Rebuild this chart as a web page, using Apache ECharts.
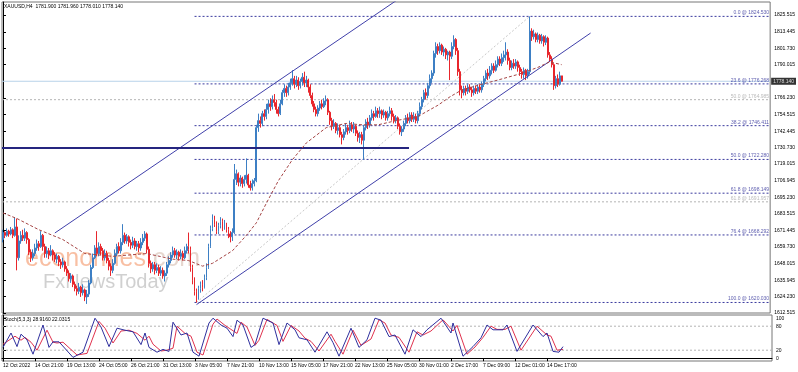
<!DOCTYPE html>
<html><head><meta charset="utf-8">
<script src="https://cdn.jsdelivr.net/npm/echarts@6/dist/echarts.min.js"></script>
<style>html,body{margin:0;padding:0;background:#fff}#c{width:798px;height:372px}</style>
</head><body><div id="c"></div>
<script>
// ---- data (H4 bars, index 0 = 12 Oct 2022) ----
const firstOpen = 1665;
const closes = [
1670,1668,1671,1669,1672,1668,1674,1652,1664,1668,
1666,1670,1665,1656,1652,1655,1659,1662,1660,1668,
1660,1655,1657,1654,1657,1654,1651,1653,1649,1647,
1649,1644,1641,1637,1639,1633,1630,1628,1631,1627,
1629,1624,1626,1634,1645,1652,1659,1655,1660,1657,
1652,1655,1650,1646,1643,1648,1655,1660,1657,1663,
1668,1664,1667,1663,1661,1664,1660,1662,1659,1663,
1666,1669,1658,1648,1644,1647,1643,1645,1641,1643,
1639,1641,1647,1650,1654,1657,1654,1656,1653,1655,
1652,1657,1660,1658,1645,1636,1628,1624,1630,1633,
1631,1638,1645,1660,1673,1679,1676,1671,1675,1678,
1674,1676,1672,1669,1667,1670,1708,1712,1706,1709,
1705,1708,1711,1704,1702,1705,1707,1745,1750,1748,
1755,1753,1758,1762,1760,1765,1763,1758,1755,1762,
1770,1773,1770,1774,1777,1780,1776,1779,1775,1778,
1781,1777,1779,1774,1768,1762,1758,1755,1759,1762,
1760,1764,1765,1756,1750,1746,1748,1743,1745,1740,
1738,1742,1745,1743,1747,1744,1746,1741,1738,1740,
1736,1745,1749,1747,1752,1755,1753,1757,1755,1757,
1754,1756,1752,1755,1757,1753,1750,1752,1746,1742,
1744,1748,1752,1750,1754,1751,1753,1750,1755,1760,
1765,1770,1768,1775,1780,1784,1798,1803,1800,1804,
1799,1801,1797,1799,1796,1803,1808,1800,1785,1772,
1770,1773,1771,1774,1772,1770,1773,1771,1774,1772,
1776,1780,1784,1782,1786,1789,1786,1790,1794,1791,
1795,1797,1799,1793,1788,1791,1789,1792,1788,1785,
1783,1786,1782,1785,1814,1810,1812,1808,1811,1807,
1810,1806,1809,1797,1794,1790,1775,1780,1776,1782,
1778.14];
const highs = [
1672,1671,1673,1672,1674,1673,1681,1680,1668,1671,
1672,1673,1671,1666,1658,1658,1662,1665,1664,1671,
1669,1662,1660,1659,1661,1658,1656,1655,1654,1651,
1652,1650,1646,1643,1641,1640,1635,1632,1634,1632,
1633,1630,1629,1636,1647,1655,1661,1671,1663,1662,
1659,1658,1657,1652,1648,1651,1658,1662,1663,1666,
1676,1670,1669,1668,1665,1667,1666,1664,1664,1666,
1669,1671,1670,1660,1650,1649,1649,1648,1647,1646,
1645,1643,1649,1653,1656,1660,1659,1658,1657,1658,
1657,1660,1662,1670,1660,1647,1638,1630,1632,1635,
1636,1640,1648,1662,1675,1683,1682,1678,1677,1681,
1680,1679,1677,1674,1671,1673,1719,1715,1713,1711,
1710,1711,1723,1712,1707,1708,1709,1747,1755,1753,
1757,1758,1762,1765,1766,1768,1769,1765,1760,1765,
1772,1776,1775,1777,1780,1786,1782,1782,1781,1780,
1784,1785,1782,1780,1776,1770,1764,1760,1761,1764,
1765,1766,1768,1766,1757,1752,1751,1749,1748,1747,
1742,1744,1748,1747,1750,1749,1749,1747,1743,1742,
1742,1747,1751,1752,1754,1758,1757,1760,1759,1760,
1758,1758,1757,1757,1760,1759,1755,1754,1753,1748,
1746,1750,1754,1755,1756,1756,1756,1755,1757,1763,
1767,1772,1773,1777,1783,1786,1800,1806,1805,1806,
1805,1803,1802,1800,1800,1806,1811,1809,1802,1787,
1775,1775,1775,1776,1776,1774,1775,1775,1776,1776,
1778,1782,1786,1787,1789,1791,1791,1793,1796,1796,
1798,1800,1806,1801,1795,1793,1794,1794,1793,1790,
1787,1788,1787,1787,1824.53,1816,1815,1813,1813,1812,
1812,1811,1811,1810,1799,1796,1791,1782,1783,1785,
1781.96];
const lows = [
1663,1666,1667,1667,1668,1666,1667,1643,1650,1662,
1664,1664,1662,1654,1649,1650,1653,1657,1657,1659,
1657,1652,1652,1651,1653,1650,1649,1648,1646,1644,
1645,1642,1639,1635,1634,1631,1628,1625,1626,1624,
1625,1621,1619,1624,1633,1644,1651,1653,1653,1654,
1650,1650,1648,1643,1639,1641,1647,1653,1655,1655,
1661,1662,1662,1660,1658,1659,1658,1657,1656,1657,
1661,1664,1655,1645,1641,1642,1640,1641,1639,1639,
1637,1635,1639,1645,1648,1652,1652,1651,1650,1651,
1650,1651,1655,1655,1642,1633,1625,1620.03,1622,1627,
1628,1630,1636,1644,1659,1671,1674,1669,1669,1673,
1671,1672,1670,1666,1663,1664,1669,1704,1703,1703,
1702,1703,1705,1702,1700,1700,1703,1706,1742,1745,
1746,1750,1751,1755,1757,1758,1760,1755,1753,1754,
1761,1767,1767,1768,1772,1775,1773,1774,1772,1773,
1775,1774,1774,1770,1766,1760,1756,1753,1753,1757,
1758,1759,1761,1754,1747,1743,1744,1741,1740,1738,
1733,1736,1740,1740,1741,1742,1741,1739,1735,1734,
1733,1722,1743,1744,1745,1750,1750,1752,1752,1752,
1751,1752,1750,1750,1753,1750,1748,1748,1744,1740,
1739,1742,1746,1748,1748,1749,1749,1748,1748,1753,
1758,1763,1765,1766,1773,1777,1782,1795,1797,1798,
1797,1796,1794,1793,1779,1794,1801,1797,1782,1768,
1766,1768,1768,1769,1770,1767,1768,1769,1769,1770,
1770,1774,1778,1779,1780,1783,1784,1785,1788,1789,
1789,1792,1793,1790,1786,1786,1787,1787,1785,1782,
1780,1780,1779,1780,1783,1807,1808,1806,1806,1805,
1805,1803,1804,1795,1792,1788,1772,1773,1774,1775,
1778.01];

const slotCount = 385;           // chart width in bar slots
const xTickIdx = [0,16,32,48,64,80,96,112,128,144,160,176,192,208,224,240,256,272];
const xTickLabels = ['12 Oct 2022','14 Oct 21:00','19 Oct 13:00','24 Oct 05:00','26 Oct 21:00','31 Oct 13:00',
  '3 Nov 05:00','7 Nov 21:00','10 Nov 13:00','15 Nov 05:00','17 Nov 21:00','22 Nov 13:00','25 Nov 05:00',
  '30 Nov 01:00','2 Dec 17:00','7 Dec 09:00','12 Dec 01:00','14 Dec 17:00'];
const yTicks = [1825.515,1813.445,1801.730,1790.015,1766.230,1754.515,1742.445,1730.730,1719.015,1706.945,
  1695.230,1683.515,1671.445,1659.730,1648.015,1635.945,1624.230,1612.515];
const bidPrice = 1778.14;

const maPts = [[0,1684],[7,1680],[18,1672],[30,1665],[41,1655],[55,1653],[72,1655],[85,1651],[93,1650],
  [100,1646],[105,1648],[115,1657],[122,1668],[127,1677],[132,1691],[138,1707],[145,1722],[152,1734],
  [162,1745],[172,1748],[180,1747],[188,1747],[197,1750],[208,1753],[218,1761],[224,1767],[230,1772],
  [240,1776],[248,1779],[258,1783],[268,1788],[274,1792],[280,1790]];

const stochK = [[0,27],[4,63],[7,29],[9,60],[12,46],[15,10],[20,83],[23,27],[25,41],[28,41],[35,2],[40,15],
  [46,100],[49,78],[53,29],[57,75],[61,70],[65,66],[69,34],[71,63],[73,27],[77,15],[80,22],[83,17],[85,90],
  [89,58],[92,63],[95,15],[98,5],[103,88],[105,100],[109,83],[112,75],[115,54],[117,95],[120,83],[124,27],
  [126,34],[130,100],[135,88],[138,34],[142,88],[146,71],[148,51],[152,46],[156,15],[162,66],[165,39],
  [168,5],[174,75],[178,27],[182,46],[186,100],[189,95],[193,54],[196,58],[201,10],[205,71],[209,54],
  [212,71],[219,100],[224,63],[225,88],[230,5],[235,29],[239,51],[242,83],[245,71],[250,71],[252,83],
  [257,17],[265,83],[270,54],[272,63],[275,17],[278,15],[280,28.916]];
const stochD = [[0,35],[6,55],[9,45],[11,52],[14,40],[17,20],[22,70],[25,40],[27,38],[30,40],[37,8],[42,12],
  [48,92],[51,75],[55,38],[59,68],[63,70],[67,62],[71,45],[73,55],[75,35],[79,18],[82,20],[85,25],[87,80],
  [91,62],[94,55],[97,15],[100,8],[105,85],[107,98],[111,82],[114,72],[117,62],[119,90],[122,78],[126,32],
  [128,45],[132,97],[137,82],[140,42],[144,82],[148,68],[151,50],[154,42],[158,18],[164,60],[166,42],
  [170,10],[175,70],[179,32],[184,48],[188,96],[191,88],[194,58],[198,52],[203,15],[207,66],[210,58],
  [214,68],[220,96],[225,68],[227,82],[232,10],[236,28],[240,52],[244,80],[247,72],[251,72],[254,80],
  [259,20],[267,80],[272,58],[274,55],[277,20],[280,22.0315]];

const fibLevels = [1824.530,1776.268,1746.411,1722.280,1698.149,1668.292,1620.030];
const fibNames = ['0.0','23.6','38.2','50.0','61.8','76.4','100.0'];
const fibStartIdx = 96;
const grayFibLevels = [1764.985,1691.957];
const grayFibNames = ['50.0','61.8'];
const channelUpper = [[26,1669.7],[197.5,1836.2]];
const channelLower = [[97,1618.5],[294.5,1812.6]];
const fibDiagonal = [[97,1620.03],[264,1824.53]];
const supportLine = [[-0.5,1730.5],[203.5,1730.5]];

// ---- build ----
const FONT = '"Liberation Sans", Arial, sans-serif';
const cats = [];
for (let i = 0; i < slotCount; i++) cats.push(String(i));
const ohlc = closes.map((c, i) => {
  const o = i === 0 ? firstOpen : closes[i - 1];
  return [o, c, Math.min(lows[i], o, c), Math.max(highs[i], o, c)];
});
const xMin = -0.5, xMax = slotCount - 0.5;

function seg(name, pts, color, width, type, z) {
  return { name, type: 'line', xAxisIndex: 1, yAxisIndex: 0, data: pts, symbol: 'none', silent: true,
    lineStyle: { color, width, type }, z: z || 3, clip: true, animation: false };
}
const series = [];
series.push({
  type: 'candlestick', xAxisIndex: 0, yAxisIndex: 0, data: ohlc, barWidth: 1.4, z: 4,
  itemStyle: { color: '#3d7fc4', color0: '#e8262c', borderColor: '#3d7fc4', borderColor0: '#e8262c', borderWidth: 1 }
});
// gray fib lines
grayFibLevels.forEach((v) => series.push(seg('g' + v, [[xMin, v], [xMax, v]], '#b4b4b4', 1, [2, 2], 2)));
// bid line
series.push(seg('bid', [[xMin, bidPrice], [xMax, bidPrice]], '#b9d3ea', 1, 'solid', 2));
// blue fib lines
fibLevels.forEach((v) => series.push(seg('f' + v, [[fibStartIdx, v], [xMax, v]], '#3a3a9e', 1, [2, 2], 3)));
series.push(seg('diag', fibDiagonal, '#c8c8c8', 1, [2, 2], 2));
series.push(seg('up', channelUpper, '#4040aa', 1, 'solid', 5));
series.push(seg('lo', channelLower, '#4040aa', 1, 'solid', 5));
series.push(seg('sup', supportLine, '#25257f', 2, 'solid', 5));
series.push(seg('ma', maPts, '#a54545', 1, [3, 2], 5));
// fib labels
series.push({
  type: 'scatter', xAxisIndex: 1, yAxisIndex: 0, symbolSize: 0, clip: false, silent: true, z: 6,
  data: fibLevels.map((v, k) => ({ value: [xMax, v], name: fibNames[k] + ' @ ' + v.toFixed(3) })),
  label: { show: true, position: 'left', distance: 1, offset: [0, -3.5], formatter: (p) => p.name,
    fontSize: 5, fontFamily: FONT, color: '#33339a' }
});
series.push({
  type: 'scatter', xAxisIndex: 1, yAxisIndex: 0, symbolSize: 0, clip: false, silent: true, z: 6,
  data: grayFibLevels.map((v, k) => ({ value: [xMax, v], name: grayFibNames[k] + ' @ ' + v.toFixed(3) })),
  label: { show: true, position: 'left', distance: 1, offset: [0, -3.5], formatter: (p) => p.name,
    fontSize: 5, fontFamily: FONT, color: '#aaaaaa' }
});
// bid price box on the axis
series.push({
  type: 'scatter', xAxisIndex: 1, yAxisIndex: 0, symbolSize: 0, clip: false, silent: true, z: 7,
  data: [[xMax, bidPrice]],
  label: { show: true, position: 'right', distance: 1, formatter: bidPrice.toFixed(3), fontSize: 5,
    fontFamily: FONT, color: '#fff', backgroundColor: '#000', padding: [1, 2, 1, 2] }
});
// stochastic
series.push({ type: 'line', xAxisIndex: 2, yAxisIndex: 1, data: [[xMin, 80], [xMax, 80]], symbol: 'none', silent: true,
  lineStyle: { color: '#b4b4b4', width: 1, type: [2, 2] } });
series.push({ type: 'line', xAxisIndex: 2, yAxisIndex: 1, data: [[xMin, 20], [xMax, 20]], symbol: 'none', silent: true,
  lineStyle: { color: '#b4b4b4', width: 1, type: [2, 2] } });
series.push({ type: 'line', xAxisIndex: 2, yAxisIndex: 1, data: stochD, symbol: 'none', silent: true,
  lineStyle: { color: '#e0324e', width: 1 } });
series.push({ type: 'line', xAxisIndex: 2, yAxisIndex: 1, data: stochK, symbol: 'none', silent: true,
  lineStyle: { color: '#2f2f9e', width: 1 } });

const chart = echarts.init(document.getElementById('c'), null, { renderer: 'canvas' });
chart.setOption({
  animation: false,
  backgroundColor: '#ffffff',
  grid: [
    { left: 2, top: 2, width: 770, height: 311, show: true, borderColor: '#777', borderWidth: 1, backgroundColor: 'transparent' },
    { left: 2, top: 315, width: 770, height: 46, show: true, borderColor: '#777', borderWidth: 1, backgroundColor: 'transparent' }
  ],
  xAxis: [
    { type: 'category', gridIndex: 0, data: cats, boundaryGap: true, show: false },
    { type: 'value', gridIndex: 0, min: xMin, max: xMax, show: false },
    { type: 'value', gridIndex: 1, min: xMin, max: xMax, splitLine: { show: false },
      axisLine: { show: true, lineStyle: { color: '#000', width: 1 } },
      axisTick: { show: true, customValues: xTickIdx, length: 3, lineStyle: { color: '#000' } },
      axisLabel: { show: true, customValues: xTickIdx, align: 'left', margin: 2, fontSize: 5, fontFamily: FONT, color: '#000',
        formatter: (v) => { const k = xTickIdx.indexOf(Math.round(v)); return k >= 0 ? xTickLabels[k] : ''; } } }
  ],
  yAxis: [
    { type: 'value', gridIndex: 0, position: 'right', min: 1612.5, max: 1834.8, splitLine: { show: false },
      axisLine: { show: true, lineStyle: { color: '#000', width: 1 } },
      axisTick: { show: true, customValues: yTicks, length: 3, lineStyle: { color: '#000' } },
      axisLabel: { show: true, customValues: yTicks, margin: 4, fontSize: 5, fontFamily: FONT, color: '#000',
        formatter: (v) => v.toFixed(3) } },
    { type: 'value', gridIndex: 1, position: 'right', min: -7, max: 108, splitLine: { show: false },
      axisLine: { show: true, lineStyle: { color: '#000', width: 1 } },
      axisTick: { show: true, customValues: [0, 20, 80, 100], length: 3, lineStyle: { color: '#000' } },
      axisLabel: { show: true, customValues: [0, 20, 80, 100], margin: 4, fontSize: 5, fontFamily: FONT, color: '#000' } }
  ],
  graphic: [
    { type: 'text', left: 4, top: 4, z: 10, style: { text: 'XAUUSD,H4  1781.900 1781.960 1778.010 1778.140', font: '5px ' + FONT, fill: '#000' } },
    { type: 'text', left: 4, top: 317, z: 10, style: { text: 'Stoch(5,3,3) 28.9160 22.0315', font: '5px ' + FONT, fill: '#000' } },
    { type: 'text', left: 25, top: 247, z: 1, style: { text: 'economies', font: '25px ' + FONT, fill: 'rgba(242,138,88,0.55)' } },
    { type: 'text', left: 146, top: 247, z: 1, style: { text: '.com', font: '25px ' + FONT, fill: 'rgba(205,175,160,0.5)' } },
    { type: 'text', left: 43, top: 272, z: 1, style: { text: 'FxNewsToday', font: '20px ' + FONT, fill: 'rgba(150,150,150,0.45)' } }
  ],
  series
});
</script></body></html>
